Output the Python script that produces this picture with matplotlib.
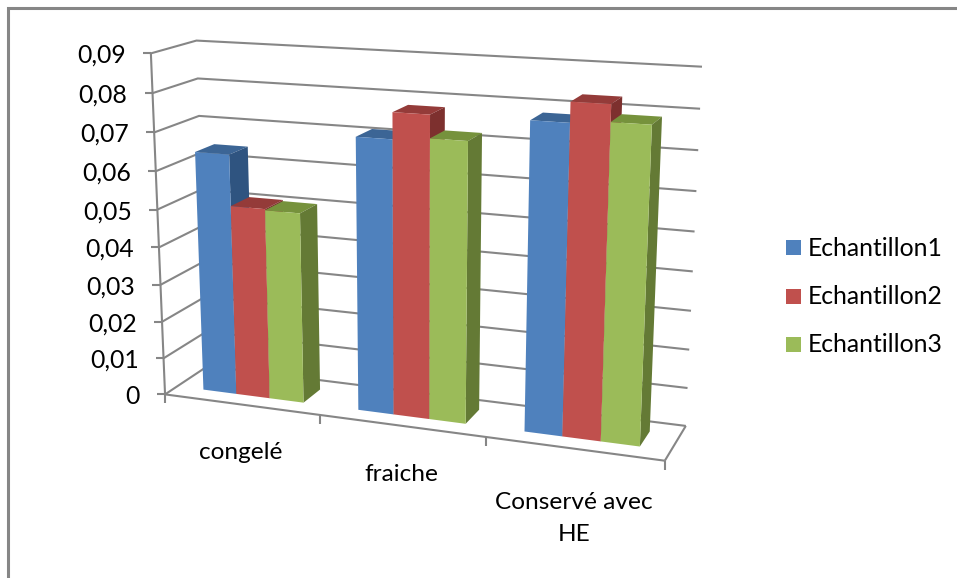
import matplotlib
matplotlib.use("Agg")
import matplotlib.pyplot as plt
import numpy as np

plt.rcParams['font.family'] = ['Lato', 'DejaVu Sans']

categories = ['congelé', 'fraiche', 'Conservé avec\nHE']
series_names = ['Echantillon1', 'Echantillon2', 'Echantillon3']
echantillon1 = [0.0642, 0.0711, 0.0780]
echantillon2 = [0.0508, 0.0778, 0.0830]
echantillon3 = [0.0505, 0.0720, 0.0788]
y_ticks = [0, 0.01, 0.02, 0.03, 0.04, 0.05, 0.06, 0.07, 0.08, 0.09]
y_labels = ['0', '0,01', '0,02', '0,03', '0,04', '0,05', '0,06', '0,07', '0,08', '0,09']

front_colors = ['#4F81BD', '#C0504D', '#9BBB59']
top_colors = ['#3C6595', '#943B39', '#76923C']
side_colors = ['#2F5480', '#7D302E', '#647A35']
GRID = '#868686'

# world corner (category, value, depth) -> pixel, used to fit the camera
anchors = [
    ((0, 0, 0), (165, 394)), ((1, 0, 0), (320, 415)), ((2, 0, 0), (487, 437)),
    ((3, 0, 0), (664, 461)), ((3, 0, 1), (686, 426)), ((0, 0, 1), (207, 366)),
    ((0, 0.09, 0), (150, 53)), ((0, 0.05, 0), (158, 210)),
    ((0, 0.09, 1), (197, 41)), ((3, 0.09, 1), (702, 67)), ((3, 0.08, 1), (700, 108)),
]


def fit_camera(points):
    rows, rhs = [], []
    for (x, v, z), (px, py) in points:
        v = v / 0.09
        rows.append([x, v, z, 1, 0, 0, 0, 0, -px * x, -px * v, -px * z])
        rows.append([0, 0, 0, 0, x, v, z, 1, -py * x, -py * v, -py * z])
        rhs += [px, py]
    p = np.linalg.lstsq(np.array(rows, float), np.array(rhs, float), rcond=None)[0]
    return np.append(p, 1).reshape(3, 4)


P = fit_camera(anchors)


def proj(x, v, z):
    q = P @ np.array([x, v / 0.09, z, 1.0])
    return q[0] / q[2], q[1] / q[2]


fig = plt.figure(figsize=(9.57, 5.78), dpi=100)
ax = fig.add_axes([0, 0, 1, 1])
ax.set_xlim(0, 957)
ax.set_ylim(578, 0)
ax.axis('off')


def line(pts, lw=1.5):
    ax.plot([p[0] for p in pts], [p[1] for p in pts], color=GRID, lw=lw,
            solid_capstyle='butt', solid_joinstyle='miter')


# chart border
line([(957, 8), (8, 8), (8, 578)], lw=2.2)

# walls
for v in y_ticks:
    line([proj(0, v, 0), proj(0, v, 1), proj(3, v, 1)])
line([proj(3, 0, 1), proj(3, 0, 0)])
line([proj(0, 0, 0), proj(3, 0, 0)])
line([proj(0, 0, 0), proj(0, 0.09, 0)])

# ticks and labels
for v, lab in zip(y_ticks, y_labels):
    px, py = proj(0, v, 0)
    line([(px - 8, py), (px, py)])
    ax.text(px - 25, py + 2, lab, ha='right', va='center', fontsize=17.8, color='black')
for i in range(4):
    px, py = proj(i, 0, 0)
    line([(px, py), (px, py + 9)])
for i, cat in enumerate(categories):
    px, py = proj(i + 0.5, 0, 0)
    extra = 5 if '\n' in cat else 0  # the wrapped label sits a bit lower
    ax.text(px, py + 38 + extra, cat, ha='center', va='top', fontsize=17.6, color='black',
            linespacing=1.68)

# bars
gap = 0.175
w = 0.218
z0, z1 = 0.28, 0.72
all_series = [echantillon1, echantillon2, echantillon3]
for i in range(len(categories)):
    for s, vals in enumerate(all_series):
        x0 = i + gap + s * w
        x1 = x0 + w
        v = vals[i]
        ax.fill(*zip(proj(x0, v, z0), proj(x1, v, z0), proj(x1, v, z1), proj(x0, v, z1)),
                color=top_colors[s], lw=0, zorder=3)
        ax.fill(*zip(proj(x1, 0, z0), proj(x1, v, z0), proj(x1, v, z1), proj(x1, 0, z1)),
                color=side_colors[s], lw=0, zorder=3)
        ax.fill(*zip(proj(x0, 0, z0), proj(x1, 0, z0), proj(x1, v, z0), proj(x0, v, z0)),
                color=front_colors[s], lw=0, zorder=3)

# legend
for s, (name, yc) in enumerate(zip(series_names, [247, 296, 344])):
    ax.add_patch(plt.Rectangle((786, yc - 7.5), 15, 15, color=front_colors[s], lw=0))
    ax.text(808, yc + 1, name, ha='left', va='center', fontsize=17.8, color='black')

fig.savefig('out.png', dpi=100)
